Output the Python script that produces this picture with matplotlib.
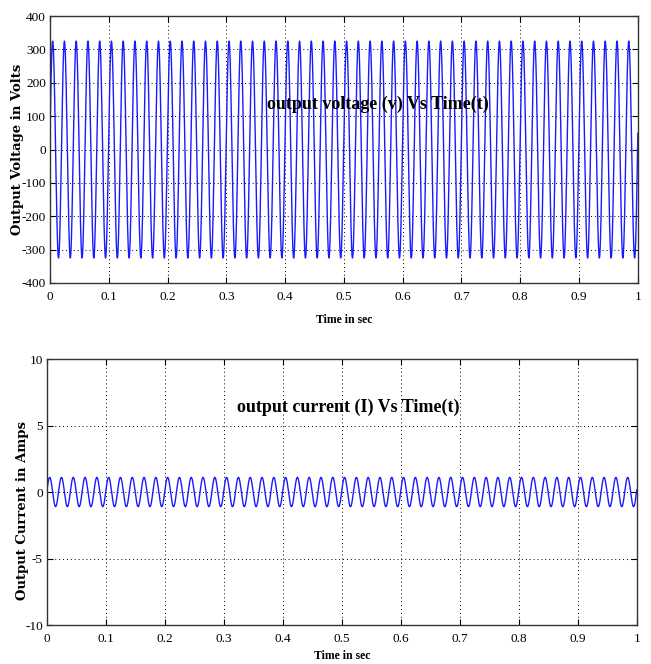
import numpy as np
import matplotlib
matplotlib.use("Agg")
import matplotlib.pyplot as plt

# Signal parameters
t_end = 1.0
freq_hz = 50.0
voltage_peak = 325.0
voltage_phase = 0.15
current_peak = 1.1
current_phase = 0.15
sample_step = 1e-4

x_ticks = [0, 0.1, 0.2, 0.3, 0.4, 0.5, 0.6, 0.7, 0.8, 0.9, 1]
x_tick_labels = ["0", "0.1", "0.2", "0.3", "0.4", "0.5", "0.6", "0.7", "0.8", "0.9", "1"]
v_ticks = [-400, -300, -200, -100, 0, 100, 200, 300, 400]
i_ticks = [-10, -5, 0, 5, 10]

titles = ["output voltage (v) Vs Time(t)", "output current (I) Vs Time(t)"]
y_labels = ["Output Voltage in Volts", "Output Current in Amps"]
x_label = "Time in sec"

t = np.arange(0, t_end + sample_step / 2, sample_step)
v = voltage_peak * np.sin(2 * np.pi * freq_hz * t + voltage_phase)
i = current_peak * np.sin(2 * np.pi * freq_hz * t + current_phase)

fig = plt.figure(figsize=(6.51, 6.64), dpi=100)
ax1 = fig.add_axes([0.0768, 0.5738, 0.903, 0.402])
ax2 = fig.add_axes([0.0722, 0.0587, 0.906, 0.4006])

tick_font = dict(family=["Liberation Sans Narrow", "Liberation Serif", "DejaVu Sans"], size=9.5)
serif = ["Liberation Serif", "DejaVu Serif"]

def style(ax, yticks, ylim, ylabel, title, title_xy, ylabel_xy):
    ax.set_xlim(0, 1)
    ax.set_ylim(*ylim)
    ax.set_xticks(x_ticks)
    ax.set_xticklabels(x_tick_labels, **tick_font)
    ax.set_yticks(yticks)
    ax.set_yticklabels([str(y) for y in yticks], **tick_font)
    ax.tick_params(direction="in", top=True, right=True, length=4, width=0.8)
    ax.tick_params(axis="x", pad=6)
    ax.tick_params(axis="y", pad=3)
    ax.grid(True, color="black", linestyle=(0, (1, 3)), linewidth=0.7)
    for s in ax.spines.values():
        s.set_linewidth(1.0)
        s.set_color("#333333")
    ax.set_ylabel(ylabel, family=["DejaVu Serif"], fontweight="bold", fontsize=9.5)
    ax.yaxis.set_label_coords(*ylabel_xy)
    ax.set_xlabel(x_label, family=serif, fontweight="bold", fontsize=8.5)
    ax.text(title_xy[0], title_xy[1], title, transform=ax.transAxes, ha="center", va="center",
            family=serif, fontweight="bold", fontsize=13)

ax1.plot(t, v, color="#1a1aff", linewidth=1.0)
style(ax1, v_ticks, (-400, 400), y_labels[0], titles[0], (0.557, 0.67), (-0.045, 0.5))
ax1.xaxis.labelpad = 8

ax2.plot(t, i, color="#1a1aff", linewidth=1.0)
style(ax2, i_ticks, (-10, 10), y_labels[1], titles[1], (0.51, 0.82), (-0.03, 0.43))
ax2.xaxis.labelpad = 3

fig.savefig("out.png", dpi=100)
